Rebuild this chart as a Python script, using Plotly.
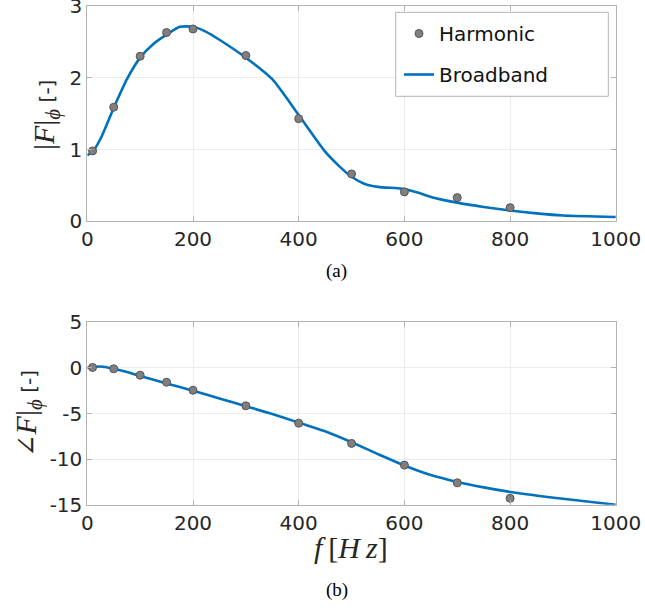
import plotly.graph_objects as go

# Harmonic (discrete) forcing results
harm_freq = [10, 50, 100, 150, 200, 300, 400, 500, 600, 700, 800]
harm_gain = [0.98, 1.59, 2.30, 2.63, 2.68, 2.31, 1.43, 0.66, 0.41, 0.33, 0.19]
harm_phase = [0.05, -0.1, -0.8, -1.57, -2.45, -4.16, -6.06, -8.28, -10.66, -12.6, -14.3]

# Broadband identification (gain)
bb_freq_gain = [0, 10, 25, 50, 75, 100, 125, 150, 175, 200, 225, 250, 300, 350, 400,
                450, 475, 500, 525, 550, 600, 625, 650, 700, 750, 800, 850, 900, 1000]
bb_gain = [0.92, 0.97, 1.15, 1.58, 1.98, 2.28, 2.47, 2.60, 2.71, 2.71, 2.64, 2.53, 2.28,
           1.98, 1.48, 0.97, 0.78, 0.62, 0.52, 0.48, 0.45, 0.40, 0.34, 0.26, 0.20, 0.15,
           0.11, 0.08, 0.06]

# Broadband identification (phase)
bb_freq_phase = [0, 25, 50, 75, 100, 150, 200, 250, 300, 350, 400, 450, 500, 550, 600,
                 650, 700, 750, 800, 900, 1000]
bb_phase = [0.0, 0.15, -0.1, -0.45, -0.88, -1.7, -2.5, -3.35, -4.2, -5.05, -6.0, -6.95,
            -8.15, -9.45, -10.7, -11.75, -12.5, -13.1, -13.6, -14.35, -15.0]

x_ticks = [0, 200, 400, 600, 800, 1000]
gain_ticks = [0, 1, 2, 3]
phase_ticks = [-15, -10, -5, 0, 5]
phase_tick_text = ["-15", "-10", "-5", "0", "5"]

LINE = "#0072BD"
MARK = "#7f7f7f"
AXC = "#b3b3b3"
GRID = "#ebebeb"
TXT = "#262626"
W, H = 645, 613

fig = go.Figure()

fig.add_trace(go.Scatter(x=bb_freq_gain, y=bb_gain, mode="lines", name="Broadband",
                         line=dict(color=LINE, width=2.6, shape="spline", smoothing=0.6),
                         xaxis="x", yaxis="y", legendgroup="b", legendrank=2))
fig.add_trace(go.Scatter(x=harm_freq, y=harm_gain, mode="markers", name="Harmonic",
                         marker=dict(color=MARK, size=8, line=dict(color="#555555", width=1)),
                         xaxis="x", yaxis="y", legendgroup="a", legendrank=1))
fig.add_trace(go.Scatter(x=bb_freq_phase, y=bb_phase, mode="lines", showlegend=False,
                         line=dict(color=LINE, width=2.6, shape="spline", smoothing=0.6),
                         xaxis="x2", yaxis="y2"))
fig.add_trace(go.Scatter(x=harm_freq, y=harm_phase, mode="markers", showlegend=False,
                         marker=dict(color=MARK, size=8, line=dict(color="#555555", width=1)),
                         xaxis="x2", yaxis="y2"))

x0, x1 = 87.3 / W, 615.8 / W
axis_common = dict(showline=True, linecolor=AXC, linewidth=1, mirror="ticks",
                   ticks="inside", ticklen=5, tickcolor=AXC, automargin=False,
                   ticklabeloverflow="allow",
                   showgrid=True, gridcolor=GRID, zeroline=False,
                   tickfont=dict(family="DejaVu Sans", size=20, color=TXT))

fig.update_layout(
    width=W, height=H,
    margin=dict(l=0, r=0, t=0, b=0),
    paper_bgcolor="white", plot_bgcolor="white",
    xaxis=dict(domain=[x0, x1], range=[0, 1000], tickvals=x_ticks, anchor="y", **axis_common),
    yaxis=dict(domain=[1 - 221.3 / H, 1 - 6.0 / H], range=[0, 3], tickvals=gain_ticks,
               anchor="x", **axis_common),
    xaxis2=dict(domain=[x0, x1], range=[0, 1000], tickvals=x_ticks, anchor="y2", **axis_common),
    yaxis2=dict(domain=[1 - 504.7 / H, 1 - 322.3 / H], range=[-15, 5],
                tickvals=phase_ticks, ticktext=phase_tick_text, anchor="x2", **axis_common),
    showlegend=True,
    legend=dict(x=399 / W, y=1 - 14 / H, xanchor="left", yanchor="top",
                bgcolor="rgba(0,0,0,0)", borderwidth=0, tracegroupgap=12,
                font=dict(family="DejaVu Sans", size=20, color="#111111")),
    shapes=[dict(type="rect", xref="paper", yref="paper",
                 x0=395.7 / W, x1=608.3 / W, y0=1 - 96.3 / H, y1=1 - 12.3 / H,
                 line=dict(color=AXC, width=1), fillcolor="white", layer="above")],
)

serif = "Liberation Serif"
sans = "DejaVu Sans"
centered = dict(xref="paper", yref="paper", xanchor="center", yanchor="middle",
                showarrow=False)
fig.add_annotation(
    text=(f"<span style='font-family:{serif};font-size:30px'>|<i>F</i>|"
          f"<sub><i>ϕ</i></sub></span> [-]"),
    x=46 / W, y=1 - 115 / H, textangle=-90,
    font=dict(family=sans, size=20, color=TXT), **centered)
fig.add_annotation(
    text=(f"<span style='font-family:DejaVu Serif;font-size:27px;font-weight:200'>∠</span>"
          f"<span style='font-family:{serif};font-size:30px'><i>F</i>|"
          f"<sub><i>ϕ</i></sub></span> [-]"),
    x=28 / W, y=1 - 414 / H, textangle=-90,
    font=dict(family=sans, size=20, color=TXT), **centered)
fig.add_annotation(text="<i>f</i>\u2009[<i>H</i>\u2009<i>z</i>]", x=351 / W, y=1 - 547 / H,
                   font=dict(family=serif, size=30, color=TXT), **centered)
fig.add_annotation(text="(a)", x=337 / W, y=1 - 271 / H,
                   font=dict(family=serif, size=19, color="black"), **centered)
fig.add_annotation(text="(b)", x=337 / W, y=1 - 590 / H,
                   font=dict(family=serif, size=19, color="black"), **centered)

fig.write_html("out.html")
